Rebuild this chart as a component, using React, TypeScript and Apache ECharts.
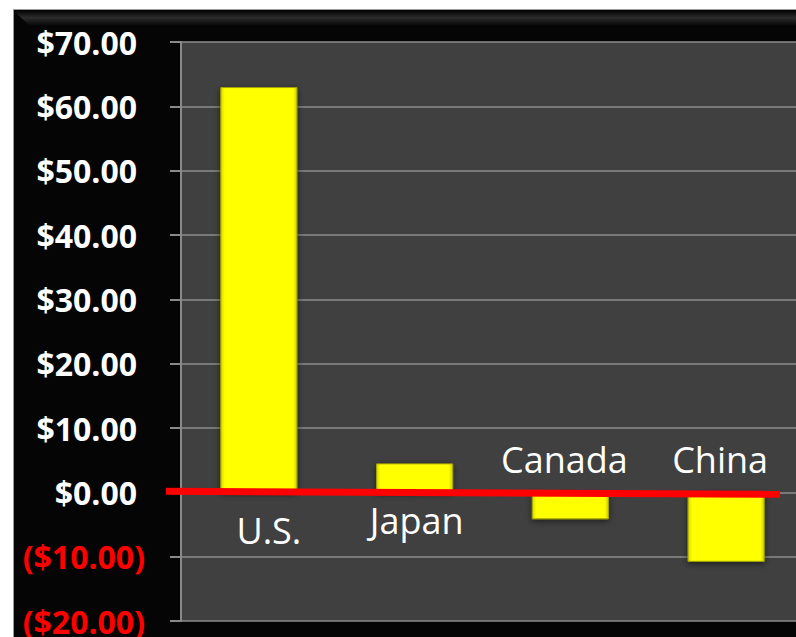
import React, { useEffect, useRef } from "react";
import * as echarts from "echarts";

const categories = ["U.S.", "Japan", "Canada", "China"];
const values = [63, 4.5, -4.2, -10.8];
const yMin = -20;
const yMax = 70;
const yStep = 10;

// nudge [dx, dy] of each category name from its bar's foot on the zero line (px)
const nameOffset = [
  [10, 38],
  [2, 28],
  [-6, -33],
  [-6, -33],
];

export default function App() {
  const ref = useRef<HTMLDivElement>(null);
  useEffect(() => {
    if (!ref.current) return;
    const chart = echarts.init(ref.current, null, { renderer: "svg" });
    const font = "'Open Sans', 'Noto Sans', sans-serif";
    const bg: any[] = [
      { type: "rect", z: -10, shape: { x: 0, y: 0, width: 830, height: 637 }, style: { fill: "#ffffff" } },
      {
        type: "rect", z: -9,
        shape: { x: 13.5, y: 9.5, width: 830, height: 640 },
        style: { fill: "#050505", stroke: "#9a9a9a", lineWidth: 1 },
      },
      {
        type: "polygon", z: -8,
        shape: { points: [[14, 11], [830, 11], [830, 26], [30, 26]] },
        style: {
          fill: new echarts.graphic.LinearGradient(0, 0, 0, 1, [
            { offset: 0, color: "#050505" },
            { offset: 0.45, color: "#2c2c2c" },
            { offset: 1, color: "#050505" },
          ]),
        },
      },
    ];
    const option: any = {
      animation: false,
      backgroundColor: "transparent",
      graphic: bg,
      grid: {
        left: 181, top: 42, width: 623, height: 579.5,
        show: true, backgroundColor: "#404040", borderWidth: 0,
      },
      xAxis: {
        type: "category",
        data: categories,
        axisLine: { show: false },
        axisTick: { show: false },
        axisLabel: { show: false },
        splitLine: { show: false },
      },
      yAxis: {
        type: "value",
        min: yMin, max: yMax, interval: yStep,
        axisLine: { show: true, lineStyle: { color: "#8a8a8a", width: 2 } },
        axisTick: { show: true, length: 11, lineStyle: { color: "#8a8a8a", width: 2 } },
        splitLine: { show: true, lineStyle: { color: "#8c8c8c", width: 1.5 } },
        axisLabel: {
          margin: 36,
          fontFamily: font,
          fontSize: 32,
          fontWeight: "bold",
          formatter: (v: number) =>
            v >= 0 ? `{p|$${v.toFixed(2)}}` : `{n|($${Math.abs(v).toFixed(2)})}`,
          rich: {
            p: { color: "#ffffff", fontFamily: font, fontSize: 32, fontWeight: "bold", padding: [0, 8, 0, 0] },
            n: { color: "#ff0000", fontFamily: font, fontSize: 32, fontWeight: "bold" },
          },
        },
      },
      series: [
        {
          type: "bar",
          data: values,
          barWidth: "49.5%",
          itemStyle: {
            color: new echarts.graphic.LinearGradient(0, 0, 1, 0, [
              { offset: 0, color: "#d6d600" },
              { offset: 0.05, color: "#ffff00" },
              { offset: 0.95, color: "#ffff00" },
              { offset: 1, color: "#cfcf00" },
            ]),
            borderColor: "#a6a600",
            borderWidth: 1,
            shadowColor: "rgba(0,0,0,0.55)",
            shadowBlur: 6,
            shadowOffsetY: 2,
          },
        },
        {
          type: "scatter",
          data: categories.map((c, i) => ({
            value: [i, 0],
            label: { offset: nameOffset[i] },
          })),
          symbolSize: 1,
          itemStyle: { color: "rgba(0,0,0,0)" },
          z: 5,
          emphasis: { disabled: true },
          label: {
            show: true,
            position: "inside",
            color: "#ffffff",
            opacity: 1,
            textBorderWidth: 0,
            textShadowBlur: 0,
            fontFamily: font,
            fontSize: 36,
            formatter: (p: any) => categories[p.dataIndex],
          },
        },
      ],
    };
    chart.setOption(option);
    const y0 = chart.convertToPixel({ yAxisIndex: 0 }, 0) as number;
    chart.setOption({
      graphic: [
        ...bg,
        {
          type: "line", z: 100,
          shape: { x1: 166, y1: y0 - 1, x2: 780, y2: y0 + 2 },
          style: { stroke: "#ff0000", lineWidth: 7 },
        },
      ],
    });
    return () => chart.dispose();
  }, []);
  return (
    <div style={{ position: "absolute", left: 0, top: 0, width: 796, height: 637, overflow: "hidden" }}>
      <div ref={ref} style={{ width: 830, height: 637 }} />
    </div>
  );
}
